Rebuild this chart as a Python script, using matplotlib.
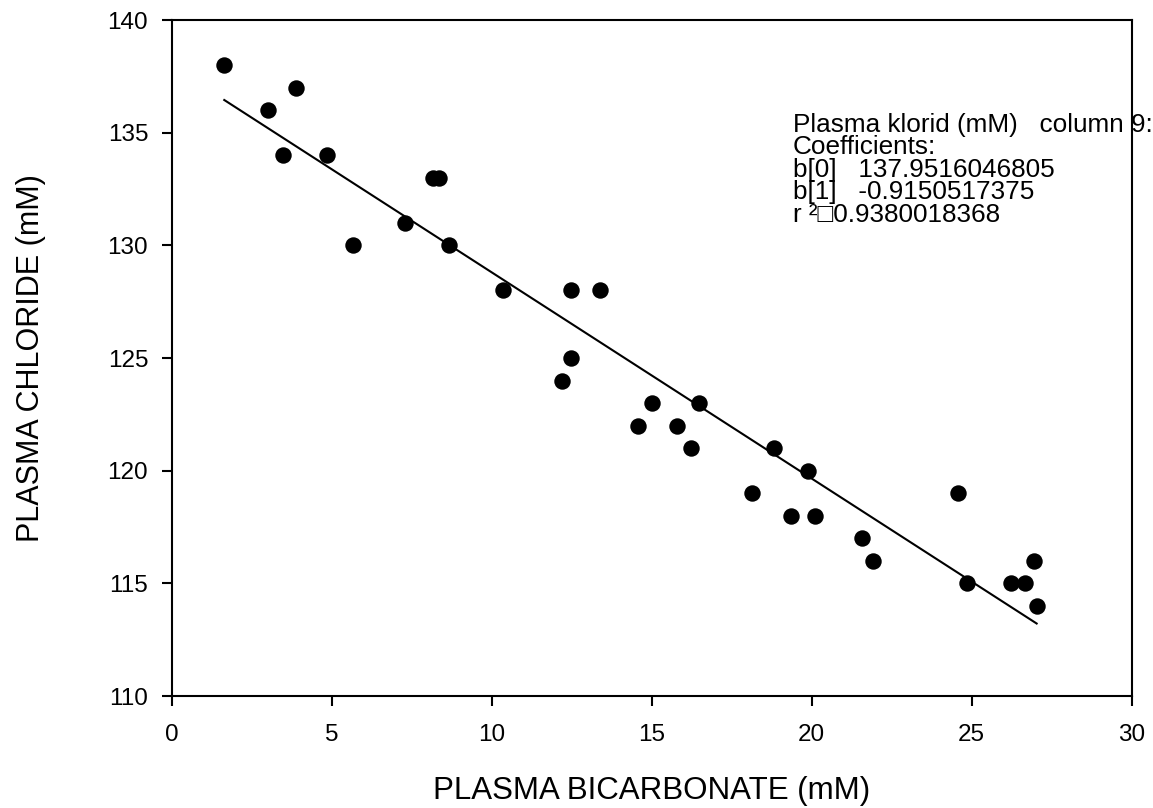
#!/usr/bin/env python3

import numpy as np
import matplotlib
matplotlib.use("Agg")
import matplotlib.pyplot as plt

# plasma bicarbonate (mM) vs plasma chloride (mM)
bicarb = [1.64, 3.01, 3.46, 3.89, 4.84, 5.66, 7.29, 8.16, 8.36, 8.65,
          10.34, 12.21, 12.48, 12.48, 13.39, 14.56, 15.01, 15.80, 16.22, 16.48,
          18.12, 18.81, 19.34, 19.88, 20.09, 21.57, 21.90, 24.58, 24.85, 26.22,
          26.68, 26.94, 27.03]
chloride = [138, 136, 134, 137, 134, 130, 131, 133, 133, 130,
            128, 124, 125, 128, 128, 122, 123, 122, 121, 123,
            119, 121, 118, 120, 118, 117, 116, 119, 115, 115,
            115, 116, 114]

# regression coefficients printed on the chart
b0 = 137.9516046805
b1 = -0.9150517375
r2 = 0.9380018368

xticks = [0, 5, 10, 15, 20, 25, 30]
yticks = [110, 115, 120, 125, 130, 135, 140]

plt.rcParams['font.family'] = ['Liberation Sans', 'DejaVu Sans']

fig = plt.figure(figsize=(11.53, 8.08), dpi=100)
ax = fig.add_axes([0.149, 0.1386, 0.8325, 0.8366])

ax.scatter(bicarb, chloride, s=140, color="black", zorder=3, linewidths=0)

xfit = np.array([min(bicarb), max(bicarb)])
ax.plot(xfit, b0 + b1 * xfit, color="black", linewidth=1.5)

ax.set_xlim(0, 30)
ax.set_ylim(110, 140)
ax.set_xticks(xticks)
ax.set_yticks(yticks)
ax.tick_params(direction="out", length=7, width=1.5, labelsize=17.5)
ax.tick_params(axis="x", pad=13)
ax.tick_params(axis="y", pad=10)
for s in ax.spines.values():
    s.set_linewidth(1.5)

ax.set_xlabel("PLASMA BICARBONATE (mM)", fontsize=22.5, labelpad=22)
ax.set_ylabel("PLASMA CHLORIDE (mM)", fontsize=22, labelpad=44)

txt = ("Plasma klorid (mM)   column 9:\n"
       "Coefficients:\n"
       f"b[0]   {b0:.10f}\n"
       f"b[1]   {b1:.10f}\n"
       f"r \u00b2\u25a1{r2:.10f}")
fig.text(793 / 1153, 1 - 113 / 808, txt, fontsize=18.8, va="top", ha="left",
         linespacing=0.92)

plt.savefig("out.png", dpi=100)
